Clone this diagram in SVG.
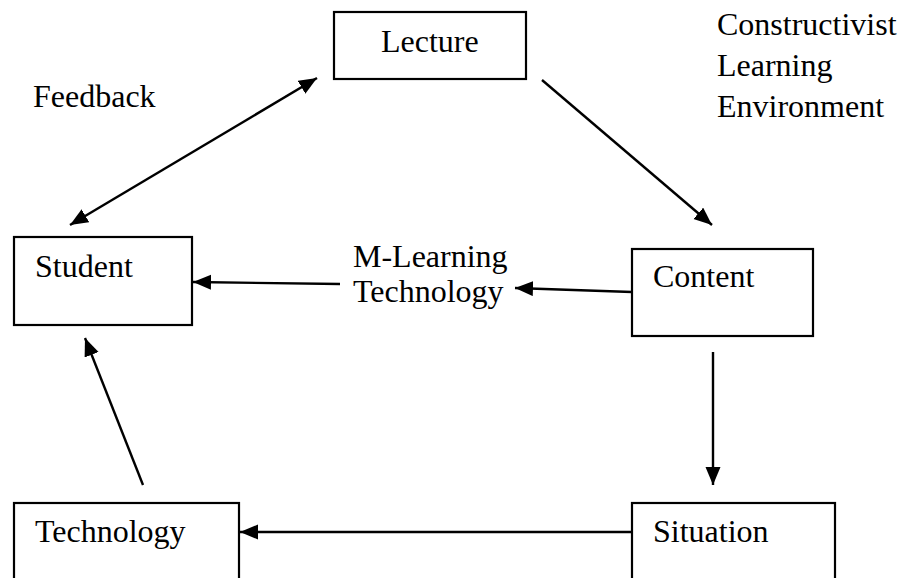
<svg xmlns="http://www.w3.org/2000/svg" width="903" height="578" viewBox="0 0 903 578">
<defs>
<style>
.box{fill:#fff;stroke:#000;stroke-width:2.2}
.t{font-family:"Liberation Serif","Times New Roman",serif;font-size:32px;fill:#000}
.c{stroke:#000;stroke-width:2.4;fill:none;marker-end:url(#ah)}
</style>
<marker id="ah" markerUnits="userSpaceOnUse" markerWidth="19" markerHeight="16" refX="18" refY="7.5" orient="auto-start-reverse" viewBox="0 0 19 16">
<path d="M0,0 L18,7.5 L0,15 z" fill="#000"/>
</marker>
</defs>
<rect width="903" height="578" fill="#fff"/>
<g id="connectors">
<line class="c" x1="70" y1="225" x2="317" y2="78" style="marker-start:url(#ah)"/>
<line class="c" x1="542" y1="80" x2="712" y2="225"/>
<line class="c" x1="632" y1="292" x2="515" y2="288"/>
<line class="c" x1="340" y1="284" x2="193" y2="282"/>
<line class="c" x1="713" y1="352" x2="713" y2="485"/>
<line class="c" x1="632" y1="532" x2="240" y2="532"/>
<line class="c" x1="143" y1="485" x2="85" y2="338"/>
</g>
<g id="lecture"><rect class="box" x="334" y="12" width="192" height="67"/><text class="t" x="381" y="52">Lecture</text></g>
<g id="student"><rect class="box" x="14" y="237" width="178" height="88"/><text class="t" x="35" y="277">Student</text></g>
<g id="content"><rect class="box" x="632" y="249" width="181" height="87"/><text class="t" x="653" y="287">Content</text></g>
<g id="technology"><rect class="box" x="14" y="503" width="225" height="100"/><text class="t" x="35" y="542">Technology</text></g>
<g id="situation"><rect class="box" x="632" y="503" width="203" height="100"/><text class="t" x="653" y="542">Situation</text></g>
<g id="labels">
<text class="t" x="33" y="107">Feedback</text>
<text class="t" x="353" y="267">M-Learning</text>
<text class="t" x="353" y="302">Technology</text>
<text class="t" x="717" y="35">Constructivist</text>
<text class="t" x="717" y="76">Learning</text>
<text class="t" x="717" y="117">Environment</text>
</g>
</svg>
